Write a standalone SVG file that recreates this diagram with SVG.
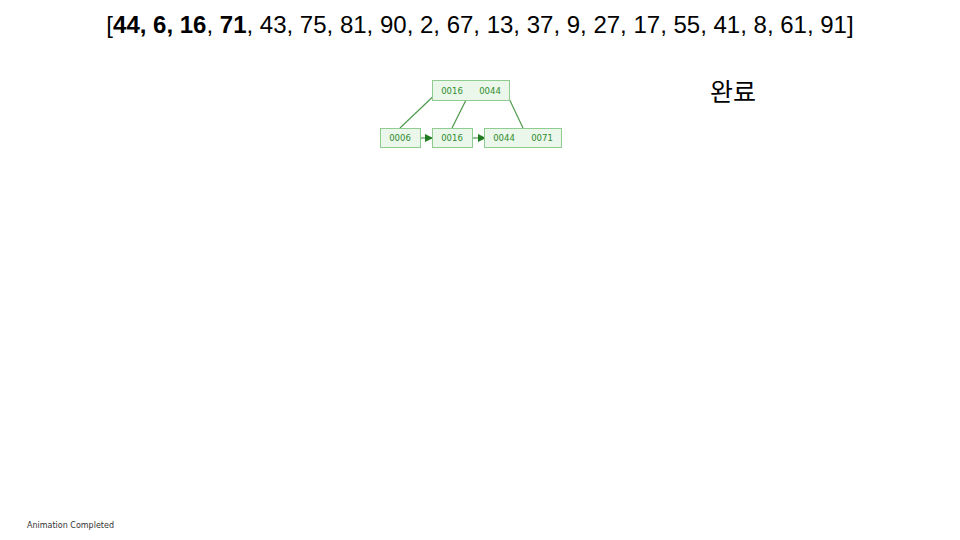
<svg xmlns="http://www.w3.org/2000/svg" width="960" height="540" viewBox="0 0 960 540">
<style>
.n rect{fill:#eaf7ea;stroke:#8fcc8f;stroke-width:1}
.n text{font-family:"DejaVu Sans","Noto Sans",sans-serif;font-size:8.5px;fill:#2e8b2e;text-anchor:middle}
.e{stroke:#4f9a4f;stroke-width:1.2;fill:none}
.t{font-family:"Liberation Sans",Arial,sans-serif;font-size:24px;fill:#000}
</style>
<defs>
<marker id="ah" markerWidth="8" markerHeight="8" refX="7" refY="4" orient="auto" markerUnits="userSpaceOnUse">
<path d="M0,0 L8,4 L0,8 Z" fill="#1f7a1f"/>
</marker>
</defs>
<rect width="960" height="540" fill="#fff"/>
<text class="t" x="480" y="33" text-anchor="middle">[<tspan font-weight="bold">44, 6, 16</tspan>, <tspan font-weight="bold">71</tspan>, 43, 75, 81, 90, 2, 67, 13, 37, 9, 27, 17, 55, 41, 8, 61, 91]</text>
<text x="733" y="101" text-anchor="middle" style="font-family:'Noto Sans CJK KR',sans-serif;font-size:25px;fill:#000">완료</text>
<text x="27" y="528" style="font-family:'DejaVu Sans','Noto Sans',sans-serif;font-size:8px;fill:#333">Animation Completed</text>
<g id="connectors">
<line class="e" x1="442" y1="88" x2="400" y2="128"/>
<line class="e" x1="471" y1="90" x2="452" y2="128"/>
<line class="e" x1="505" y1="90" x2="523" y2="128"/>
<line class="e" x1="420" y1="138" x2="432" y2="138" marker-end="url(#ah)"/>
<line class="e" x1="472" y1="138" x2="485" y2="138" marker-end="url(#ah)"/>
</g>
<g id="node-root" class="n">
<rect x="432.5" y="80.5" width="77" height="20"/>
<text x="452" y="93.5">0016</text>
<text x="490" y="93.5">0044</text>
</g>
<g id="node-leaf1" class="n">
<rect x="380.5" y="128.5" width="40" height="19"/>
<text x="400" y="141">0006</text>
</g>
<g id="node-leaf2" class="n">
<rect x="432.5" y="128.5" width="40" height="19"/>
<text x="452" y="141">0016</text>
</g>
<g id="node-leaf3" class="n">
<rect x="484.5" y="128.5" width="77" height="19"/>
<text x="504" y="141">0044</text>
<text x="542" y="141">0071</text>
</g>
</svg>
